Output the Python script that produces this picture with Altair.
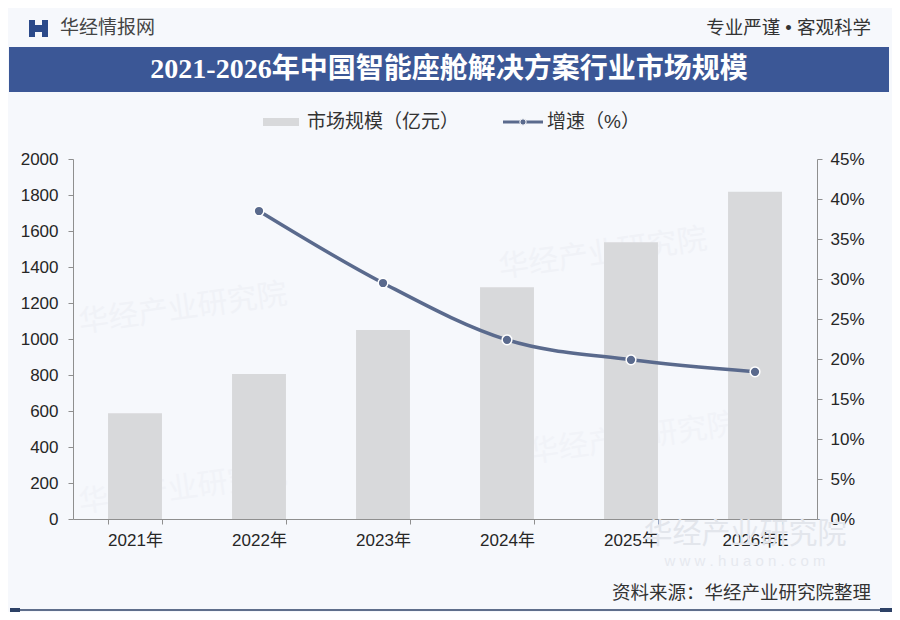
import altair as alt
import pandas as pd

# ---- data ----
years = ["2021年", "2022年", "2023年", "2024年", "2025年", "2026年E"]
market_size = [588, 806, 1050, 1287, 1537, 1818]          # 亿元
growth_years = ["2022年", "2023年", "2024年", "2025年", "2026年E"]
growth_rate = [0.385, 0.295, 0.224, 0.199, 0.184]          # 增速

left_ticks = [0, 200, 400, 600, 800, 1000, 1200, 1400, 1600, 1800, 2000]
right_ticks = [0, 0.05, 0.10, 0.15, 0.20, 0.25, 0.30, 0.35, 0.40, 0.45]

title_text = "2021-2026年中国智能座舱解决方案行业市场规模"
legend_bar = "市场规模（亿元）"
legend_line = "增速（%）"
brand = "华经情报网"
motto = "专业严谨 • 客观科学"
source = "资料来源：华经产业研究院整理"
watermark = "华经产业研究院"
site = "w w w . h u a o n . c o m"

CJK = '"Liberation Sans", "Noto Sans CJK SC", sans-serif'
TITLE_FONT = '"Liberation Serif", "Noto Sans CJK SC", serif'
LINE_COLOR = "#5a6a8d"
BAR_COLOR = "#d8d9db"

bars_df = pd.DataFrame({"year": years, "size": market_size})
line_df = pd.DataFrame({"year": growth_years, "rate": growth_rate})
one = alt.Data(values=[{"k": 1}])

xscale = alt.Scale(domain=years, paddingInner=0.565, paddingOuter=0.2825)
xaxis = alt.Axis(title=None, labelFont=CJK, labelFontSize=17, labelColor="#262626",
                 domainColor="#8f8f8f", tickColor="#8f8f8f", tickSize=5,
                 tickBand="extent", labelPadding=8, labelAngle=0)

bars = alt.Chart(bars_df).mark_bar(color=BAR_COLOR).encode(
    x=alt.X("year:N", scale=xscale, axis=xaxis, sort=years),
    y=alt.Y("size:Q", scale=alt.Scale(domain=[0, 2000], nice=False),
            axis=alt.Axis(title=None, values=left_ticks, grid=False, format="d",
                          labelFont=CJK, labelFontSize=17, labelColor="#262626",
                          domainColor="#8f8f8f", tickColor="#8f8f8f", tickSize=5,
                          labelPadding=10)),
)

line = alt.Chart(line_df).mark_line(
    color=LINE_COLOR, strokeWidth=3.5, interpolate="monotone"
).encode(
    x=alt.X("year:N", scale=xscale, sort=years, axis=xaxis),
    y=alt.Y("rate:Q", scale=alt.Scale(domain=[0, 0.45], nice=False),
            axis=alt.Axis(title=None, orient="right", values=right_ticks, format=".0%",
                          grid=False, labelFont=CJK, labelFontSize=17,
                          labelColor="#262626", domainColor="#8f8f8f",
                          tickColor="#8f8f8f", tickSize=5, labelPadding=8)),
)
points = alt.Chart(line_df).mark_point(
    filled=True, color=LINE_COLOR, size=95, stroke="white", strokeWidth=1.5, opacity=1
).encode(
    x=alt.X("year:N", scale=xscale, sort=years, axis=xaxis),
    y=alt.Y("rate:Q", scale=alt.Scale(domain=[0, 0.45], nice=False), axis=None),
)

def txt(text, x, y, size, color, align="center", weight="normal", font=CJK, **kw):
    return alt.Chart(one).mark_text(
        text=text, align=align, baseline="middle", fontSize=size, color=color,
        fontWeight=weight, font=font, **kw
    ).encode(x=alt.value(x), y=alt.value(y))

def rect(x, x2, y, y2, color, **kw):
    return alt.Chart(one).mark_rect(color=color, **kw).encode(
        x=alt.value(x), x2=alt.value(x2), y=alt.value(y), y2=alt.value(y2))

def rule(x, x2, y, color, width):
    return alt.Chart(one).mark_rule(color=color, strokeWidth=width).encode(
        x=alt.value(x), x2=alt.value(x2), y=alt.value(y))

# faint watermarks
wm = [
    txt(watermark, 110, 150, 30, "#f0f2f7", angle=352),
    txt(watermark, 530, 95, 30, "#f0f2f7", angle=352),
    txt(watermark, 560, 280, 30, "#f1f3f8", angle=352),
    txt(watermark, 110, 330, 30, "#f1f3f8", angle=352),
    txt(watermark, 672, 376, 29, "#e3e6ec"),
    txt(site, 672, 402, 15, "#e6e9ef"),
]

header = [
    rule(-63, 819, -153, "#2d4166", 1.5),
    rect(-63, -53, -155, -151, "#2d4166"),
    rect(807, 819, -155, -151, "#2d4166"),
    rect(-44, -38, -139, -122, "#2b4a8a"),
    rect(-31, -25, -139, -122, "#2b4a8a"),
    rect(-38, -31, -134, -127, "#2b4a8a"),
    txt(brand, -13, -131, 19, "#444444", align="left"),
    txt(motto, 798, -131, 18.5, "#333333", align="right"),
    rect(-64, 816, -112, -67, "#3b5796"),
    txt(title_text, 376, -89, 28, "white", weight="bold", font=TITLE_FONT),
    # legend
    rect(190, 226, -41, -33, BAR_COLOR),
    txt(legend_bar, 234, -37, 19, "#333333", align="left"),
    rule(430, 470, -37, LINE_COLOR, 3),
    alt.Chart(one).mark_point(filled=True, color=LINE_COLOR, size=40, opacity=1,
                              stroke="white", strokeWidth=1).encode(
        x=alt.value(450), y=alt.value(-37)),
    txt(legend_line, 474, -37, 19, "#333333", align="left"),
    # footer
    txt(source, 798, 434, 18.5, "#333333", align="right"),
    rule(-63, 819, 451, "#2d4166", 1.5),
    rect(-63, -53, 449, 453, "#2d4166"),
    rect(807, 819, 449, 453, "#2d4166"),
]

chart = alt.layer(*wm, bars, line, points, *header).resolve_scale(
    y="independent"
).properties(
    width=744, height=360,
    padding={"left": 65, "top": 151, "right": 75, "bottom": 93},
    autosize=alt.AutoSizeParams(type="none"),
    background="#f6f8fc",
).configure_view(stroke=None)

chart.save("out.html", embed_options={"renderer": "svg", "actions": False})
